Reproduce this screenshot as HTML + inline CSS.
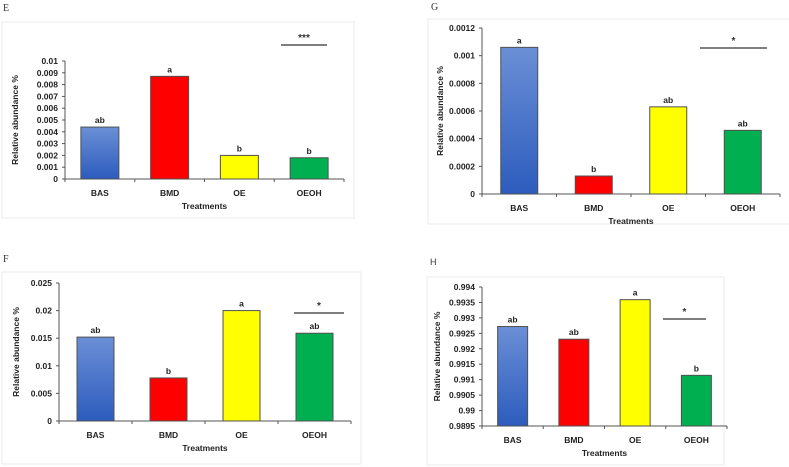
<!DOCTYPE html>
<html><head><meta charset="utf-8">
<style>
html,body{margin:0;padding:0;background:#fff;}
svg{display:block;font-family:"Liberation Sans",sans-serif;}
.tick{font-size:8.5px;font-weight:bold;fill:#222;}
.cat{font-size:8.5px;font-weight:bold;fill:#222;}
.ttl{font-size:8.5px;font-weight:bold;fill:#222;}
.let{font-size:8.5px;font-weight:bold;fill:#222;}
.star{font-size:10px;font-weight:bold;fill:#333;}
.pl{font-family:"Liberation Serif",serif;font-size:10px;fill:#333;}
</style></head>
<body>
<svg id="c" width="789" height="467" viewBox="0 0 789 467">
<defs><linearGradient id="blue" x1="0" y1="0" x2="0" y2="1"><stop offset="0" stop-color="#6b8fd6"/><stop offset="1" stop-color="#2c5cbd"/></linearGradient></defs>
</svg>
<script>
const categories = ["BAS","BMD","OE","OEOH"];
const valuesE = [0.0044, 0.0087, 0.0020, 0.0018];
const lettersE = ["ab","a","b","b"];
const ticksE = ["0","0.001","0.002","0.003","0.004","0.005","0.006","0.007","0.008","0.009","0.01"];
const valuesG = [0.00106, 0.00013, 0.00063, 0.00046];
const lettersG = ["a","b","ab","ab"];
const ticksG = ["0","0.0002","0.0004","0.0006","0.0008","0.001","0.0012"];
const valuesF = [0.0152, 0.0078, 0.0200, 0.0159];
const lettersF = ["ab","b","a","ab"];
const ticksF = ["0","0.005","0.01","0.015","0.02","0.025"];
const valuesH = [0.99272, 0.99231, 0.99359, 0.99114];
const lettersH = ["ab","ab","a","b"];
const ticksH = ["0.9895","0.99","0.9905","0.991","0.9915","0.992","0.9925","0.993","0.9935","0.994"];
const fills = ["url(#blue)","#ff0000","#ffff00","#00b050"];

const svg = document.getElementById('c');
const NS = "http://www.w3.org/2000/svg";
function mk(tag, attrs, parent, text){
  const e = document.createElementNS(NS, tag);
  for (const k in attrs) e.setAttribute(k, attrs[k]);
  if (text !== undefined) e.textContent = text;
  (parent || svg).appendChild(e);
  return e;
}
function chart(o){
  const g = mk('g', {});
  
  
  const fr = mk('rect', {x:o.fx, y:o.fy, width:o.fw, height:o.fh, fill:'#fff', stroke:'#ebebeb', 'stroke-width':1}, g);
  
  
  const pl = mk('text', {x:o.lx, y:o.ly, class:'pl', style:o.lstyle||''}, g, o.id);
  
  
  const tmin = parseFloat(o.ticks[0]), tmax = parseFloat(o.ticks[o.ticks.length-1]);
  const y = v => o.y0 - (v - tmin) / (tmax - tmin) * (o.y0 - o.y1);
  const band = (o.x1 - o.x0) / o.cats.length;
  const xc = i => o.x0 + band * (i + 0.5);
  const ya = mk('line', {x1:o.x0, y1:o.y1, x2:o.x0, y2:o.y0, stroke:'#555', 'stroke-width':1}, g);
  
  
  o.ticks.forEach(t => {
    const ty = y(parseFloat(t));
    mk('line', {x1:o.x0-3, y1:ty, x2:o.x0, y2:ty, stroke:'#555'}, g);
    const tl = mk('text', {x:o.x0-7, y:ty+3, class:'tick', 'text-anchor':'end'}, g, t);
    
    
  });
  const xa = mk('line', {x1:o.x0, y1:o.y0, x2:o.x1, y2:o.y0, stroke:'#555', 'stroke-width':1}, g);
  
  
  for (let i = 0; i <= o.cats.length; i++) {
    const tx = o.x0 + band * i;
    mk('line', {x1:tx, y1:o.y0, x2:tx, y2:o.y0+3, stroke:'#555'}, g);
  }
  o.cats.forEach((c, i) => {
    const by = y(o.vals[i]);
    const b = mk('rect', {x:xc(i)-o.bw/2, y:by, width:o.bw, height:o.y0-by, fill:fills[i], stroke:'#505050', 'stroke-width':1}, g);
    
    
    const lt = mk('text', {x:xc(i), y:by-4, class:'let', 'text-anchor':'middle'}, g, o.lets[i]);
    
    
    const cl = mk('text', {x:xc(i), y:o.y0+17, class:'cat', 'text-anchor':'middle'}, g, c);
    
    
  });
  const xt = mk('text', {x:(o.x0+o.x1)/2, y:o.y0+30, class:'ttl', 'text-anchor':'middle'}, g, 'Treatments');
  
  
  const yt = mk('text', {x:0, y:0, class:'ttl', 'text-anchor':'middle', transform:`translate(${o.ytx},${(o.y0+o.y1)/2}) rotate(-90)`}, g, 'Relative abundance %');
  
  
  const sl = mk('line', {x1:o.sx1, y1:o.sy, x2:o.sx2, y2:o.sy, stroke:'#333', 'stroke-width':1.3}, g);
  
  
  const st = mk('text', {x:(o.sx1+o.sx2)/2, y:o.sy-4, class:'star', 'text-anchor':'middle'}, g, o.star);
  
  
}
chart({id:'E', fx:2, fy:22, fw:352, fh:196, lx:3, ly:11, x0:65, x1:344, y0:179, y1:61, bw:38, ytx:18,
  cats:categories, vals:valuesE, lets:lettersE, ticks:ticksE, sx1:281, sx2:327, sy:45, star:'***'});
chart({id:'G', fx:428, fy:19, fw:370, fh:205, lx:431, ly:10, x0:482, x1:780, y0:194, y1:28, bw:37, ytx:443,
  cats:categories, vals:valuesG, lets:lettersG, ticks:ticksG, sx1:700, sx2:767, sy:48, star:'*'});
chart({id:'F', fx:2, fy:272, fw:359, fh:192, lx:3, ly:262, x0:59, x1:351, y0:421, y1:283, bw:37, ytx:19,
  cats:categories, vals:valuesF, lets:lettersF, ticks:ticksF, sx1:294, sx2:344, sy:313, star:'*'});
chart({id:'H', fx:427, fy:277, fw:297, fh:188, lx:430, ly:265, lstyle:'font-family:"Liberation Sans",sans-serif;font-size:9px', x0:482, x1:727, y0:426, y1:287, bw:30, ytx:440,
  cats:categories, vals:valuesH, lets:lettersH, ticks:ticksH, sx1:663, sx2:706, sy:319, star:'*'});
</script>
</body></html>
